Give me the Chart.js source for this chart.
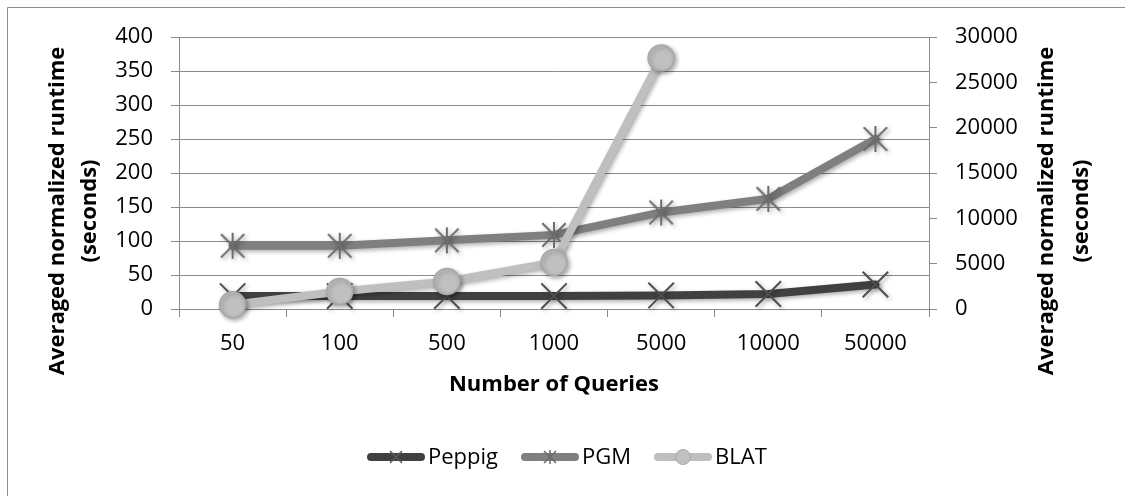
<!DOCTYPE html>
<html>
<head>
<meta charset="utf-8">
<script src="https://cdn.jsdelivr.net/npm/chart.js@4/dist/chart.umd.min.js"></script>
<style>
  html, body { margin: 0; padding: 0; background: #ffffff; }
  #wrap { position: relative; width: 1125px; height: 496px; }
  canvas { display: block; }
</style>
</head>
<body>
<div id="wrap"><canvas id="c" width="1125" height="496"></canvas></div>
<script>
// Query counts along the x axis
const categories = ['50', '100', '500', '1000', '5000', '10000', '50000'];

// Averaged normalized runtime (seconds), left axis
const peppigValues = [19, 19, 19, 19, 20, 22, 36];
const pgmValues = [93, 93, 101, 109, 142, 162, 250];

// Averaged normalized runtime (seconds), right axis; no runs above 5000 queries
const blatValues = [470, 1940, 3040, 5130, 27690, null, null];

// Axis ranges and tick steps
const leftTicks = { min: 0, max: 400, step: 50 };
const rightTicks = { min: 0, max: 30000, step: 5000 };

const seriesNames = ['Peppig', 'PGM', 'BLAT'];
const yTitleLines = ['Averaged normalized runtime', '(seconds)'];
const xTitle = 'Number of Queries';

const TICK_FONT = { family: '"Open Sans", sans-serif', size: 22 };
const TITLE_FONT = 'bold 22px "Open Sans", sans-serif';
const GRID = '#8a8a8a';

// Asterisk marker: an X with a vertical bar through it
function makeAsterisk(size, color, lw) {
  const c = document.createElement('canvas');
  c.width = size; c.height = size;
  const g = c.getContext('2d');
  const m = size / 2, r = size / 2 - 2, d = r * 0.9;
  g.strokeStyle = color; g.lineWidth = lw; g.lineCap = 'butt';
  g.beginPath();
  g.moveTo(m, m - r); g.lineTo(m, m + r);
  g.moveTo(m - d, m - d); g.lineTo(m + d, m + d);
  g.moveTo(m + d, m - d); g.lineTo(m - d, m + d);
  g.stroke();
  return c;
}
const asteriskBig = makeAsterisk(30, '#6c6c6c', 2);

// Soft drop shadow under the series
const shadowPlugin = {
  id: 'seriesShadow',
  beforeDatasetsDraw(chart) {
    const ctx = chart.ctx;
    ctx.save();
    ctx.shadowColor = 'rgba(0,0,0,0.32)';
    ctx.shadowBlur = 4;
    ctx.shadowOffsetX = 2;
    ctx.shadowOffsetY = 2;
  },
  afterDatasetsDraw(chart) { chart.ctx.restore(); }
};

// Outer frame, axis titles and the legend row
const decorPlugin = {
  id: 'decor',
  beforeDraw(chart) {
    const ctx = chart.ctx;
    ctx.save();
    ctx.fillStyle = '#ffffff';
    ctx.fillRect(0, 0, chart.width, chart.height);
    ctx.strokeStyle = '#8c8c8c';
    ctx.lineWidth = 1;
    ctx.beginPath();
    ctx.moveTo(7.5, chart.height + 5);
    ctx.lineTo(7.5, 7.5);
    ctx.lineTo(chart.width + 5, 7.5);
    ctx.stroke();
    ctx.restore();
  },
  afterDraw(chart) {
    const ctx = chart.ctx;
    const area = chart.chartArea;
    ctx.save();
    ctx.fillStyle = '#000000';
    ctx.font = TITLE_FONT;
    ctx.textAlign = 'center';
    ctx.textBaseline = 'middle';

    // x axis title
    ctx.fillText(xTitle, (area.left + area.right) / 2, 385);

    // y axis titles, reading bottom to top
    const titleCy = 211;
    [[58, 90], [1047, 1082]].forEach(xs => {
      yTitleLines.forEach((line, i) => {
        ctx.save();
        ctx.translate(xs[i], titleCy);
        ctx.rotate(-Math.PI / 2);
        ctx.fillText(line, 0, 0);
        ctx.restore();
      });
    });

    // legend
    ctx.font = TICK_FONT.size + 'px ' + TICK_FONT.family;
    ctx.textAlign = 'left';
    const ly = 457;
    let x = 367;
    chart.data.datasets.forEach((ds, i) => {
      const x0 = x, x1 = x + 58;
      ctx.strokeStyle = ds.borderColor;
      ctx.lineWidth = 8;
      ctx.lineCap = 'round';
      ctx.beginPath();
      ctx.moveTo(x0 + 4, ly); ctx.lineTo(x1 - 4, ly);
      ctx.stroke();
      const mx = (x0 + x1) / 2;
      if (i === 0) {
        ctx.strokeStyle = '#5a5a5a'; ctx.lineWidth = 1.5; ctx.lineCap = 'butt';
        ctx.beginPath();
        ctx.moveTo(mx - 6, ly - 6); ctx.lineTo(mx + 6, ly + 6);
        ctx.moveTo(mx + 6, ly - 6); ctx.lineTo(mx - 6, ly + 6);
        ctx.stroke();
      } else if (i === 1) {
        ctx.strokeStyle = '#6c6c6c'; ctx.lineWidth = 1.5; ctx.lineCap = 'butt';
        ctx.beginPath();
        ctx.moveTo(mx, ly - 7); ctx.lineTo(mx, ly + 7);
        ctx.moveTo(mx - 6, ly - 6); ctx.lineTo(mx + 6, ly + 6);
        ctx.moveTo(mx + 6, ly - 6); ctx.lineTo(mx - 6, ly + 6);
        ctx.stroke();
      } else {
        ctx.fillStyle = ds.pointBackgroundColor;
        ctx.strokeStyle = ds.pointBorderColor;
        ctx.lineWidth = 1;
        ctx.beginPath();
        ctx.arc(mx, ly, 7.5, 0, Math.PI * 2);
        ctx.fill(); ctx.stroke();
      }
      ctx.fillStyle = '#000000';
      ctx.fillText(ds.label, x1 + 3, ly + 1);
      x = x1 + 3 + ctx.measureText(ds.label).width + 23;
    });
    ctx.restore();
  }
};

new Chart(document.getElementById('c'), {
  type: 'line',
  data: {
    labels: categories,
    datasets: [
      {
        label: seriesNames[0],
        data: peppigValues,
        yAxisID: 'y',
        borderColor: '#404040',
        borderWidth: 8,
        pointStyle: 'crossRot',
        pointRadius: 18,
        pointBorderColor: '#4e4e4e',
        pointBorderWidth: 2,
        pointBackgroundColor: '#4e4e4e',
        order: 3,
        clip: false
      },
      {
        label: seriesNames[1],
        data: pgmValues,
        yAxisID: 'y',
        borderColor: '#7f7f7f',
        borderWidth: 8,
        pointStyle: asteriskBig,
        pointRadius: 15,
        order: 2,
        clip: false
      },
      {
        label: seriesNames[2],
        data: blatValues,
        yAxisID: 'y2',
        borderColor: '#bfbfbf',
        borderWidth: 8,
        pointStyle: 'circle',
        pointRadius: 13,
        pointBackgroundColor: '#c0c0c0',
        pointBorderColor: '#a8a8a8',
        pointBorderWidth: 1.5,
        order: 1,
        clip: false
      }
    ]
  },
  options: {
    responsive: false,
    animation: false,
    events: [],
    layout: { padding: { top: 37, left: 0, right: 0, bottom: 0 } },
    elements: {
      line: { tension: 0, borderCapStyle: 'round', borderJoinStyle: 'round' }
    },
    plugins: {
      legend: { display: false },
      tooltip: { enabled: false },
      title: { display: false }
    },
    scales: {
      x: {
        type: 'category',
        offset: true,
        grid: {
          offset: true,
          drawOnChartArea: false,
          tickLength: 8,
          color: GRID,
          lineWidth: 1
        },
        border: { display: true, color: GRID, width: 1 },
        ticks: { font: TICK_FONT, color: '#000000', padding: 14, maxRotation: 0, autoSkip: false },
        afterFit(scale) { scale.height = 187; }
      },
      y: {
        position: 'left',
        min: leftTicks.min,
        max: leftTicks.max,
        grid: { color: GRID, lineWidth: 1, tickLength: 8 },
        border: { display: true, color: GRID, width: 1 },
        ticks: { stepSize: leftTicks.step, font: TICK_FONT, color: '#000000', padding: 18,
                 callback: v => String(v) },
        afterFit(scale) { scale.width = 179; }
      },
      y2: {
        position: 'right',
        min: rightTicks.min,
        max: rightTicks.max,
        grid: { drawOnChartArea: false, color: GRID, lineWidth: 1, tickLength: 8 },
        border: { display: true, color: GRID, width: 1 },
        ticks: { stepSize: rightTicks.step, font: TICK_FONT, color: '#000000', padding: 18,
                 callback: v => String(v) },
        afterFit(scale) { scale.width = 196; }
      }
    }
  },
  plugins: [decorPlugin, shadowPlugin]
});
</script>
</body>
</html>
